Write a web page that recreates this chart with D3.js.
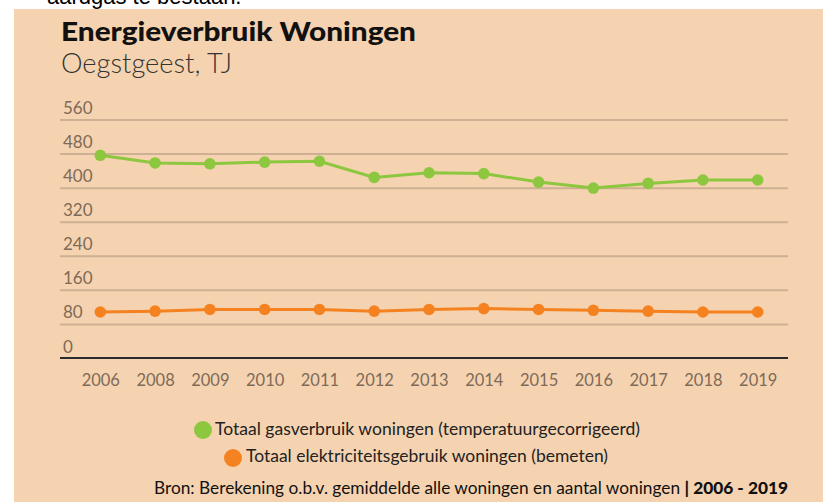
<!DOCTYPE html>
<html>
<head>
<meta charset="utf-8">
<script src="https://cdn.jsdelivr.net/npm/d3@7"></script>
<style>
  html, body { margin: 0; padding: 0; background: #ffffff; }
  svg { display: block; }
  text { font-family: Lato, "Open Sans", sans-serif; }
</style>
</head>
<body>
<svg id="chart" width="823" height="502"></svg>
<script>
const years = ["2006","2008","2009","2010","2011","2012","2013","2014","2015","2016","2017","2018","2019"];
const gasValues = [476, 458, 456, 460, 462, 424, 435, 433, 413, 399, 410, 418, 418];
const elecValues = [108, 110, 114, 114, 114, 110, 114, 116, 114, 112, 110, 108, 108];
const yTickValues = [0, 80, 160, 240, 320, 400, 480, 560];
const seriesNames = ["Totaal gasverbruik woningen (temperatuurgecorrigeerd)", "Totaal elektriciteitsgebruik woningen (bemeten)"];
const seriesColors = ["#8dc63f", "#f58220"];

const svg = d3.select("#chart");

// text above the chart panel (cropped page content)
svg.append("text").attr("x", 47).attr("y", 4)
  .style("font-family", "'Liberation Sans', Arial, sans-serif")
  .style("font-size", "22px").attr("fill", "#000")
  .text("aardgas te bestaan.");

// panel
svg.append("rect").attr("x", 14).attr("y", 9).attr("width", 809).attr("height", 493)
  .attr("fill", "#f5d3b0");

// fit helper: stretch a text to a target width
function fit(sel, w) {
  sel.attr("textLength", w).attr("lengthAdjust", "spacingAndGlyphs");
  return sel;
}

// titles
fit(svg.append("text").attr("x", 61).attr("y", 41)
  .style("font-size", "26px").style("font-weight", 900).attr("fill", "#111")
  .text("Energieverbruik Woningen"), 355);
fit(svg.append("text").attr("x", 61).attr("y", 72.5)
  .style("font-size", "27px").style("font-weight", 300).attr("fill", "#333")
  .text("Oegstgeest, TJ"), 171);

const left = 60, right = 788;
const x = d3.scalePoint().domain(years).range([100.3, 757.7]);
const y = d3.scaleLinear().domain([0, 560]).range([358, 119.5]);

// y grid + labels
const yAxis = d3.axisLeft(y).tickValues(yTickValues).tickSize(-(right - left)).tickFormat(d3.format("d"));
const gy = svg.append("g").attr("transform", `translate(${left},0)`).call(yAxis);
gy.select(".domain").remove();
gy.selectAll(".tick line").attr("stroke", "#cdb093").attr("stroke-width", 2)
  .filter(d => d === 0).remove();
gy.selectAll(".tick text").attr("x", 3).attr("dy", -6).attr("text-anchor", "start")
  .style("font-size", "17px").attr("fill", "#7e6a58").style("font-family", "Lato, sans-serif");

// x axis
const xAxis = d3.axisBottom(x).tickSize(0);
const gx = svg.append("g").attr("transform", `translate(0,${y(0)})`).call(xAxis);
gx.select(".domain").remove();
gx.selectAll(".tick text").attr("y", 28).attr("dy", 0)
  .style("font-size", "16.5px").attr("fill", "#7e6a58").style("font-family", "Lato, sans-serif");
svg.append("line").attr("x1", left).attr("x2", right).attr("y1", y(0)).attr("y2", y(0))
  .attr("stroke", "#2b2b2b").attr("stroke-width", 2);

// lines
const series = [gasValues, elecValues];
const line = d3.line().x((d, i) => x(years[i])).y(d => y(d));
series.forEach((vals, si) => {
  svg.append("path").datum(vals).attr("d", line)
    .attr("fill", "none").attr("stroke", seriesColors[si]).attr("stroke-width", 3);
  svg.append("g").selectAll("circle").data(vals).join("circle")
    .attr("cx", (d, i) => x(years[i])).attr("cy", d => y(d)).attr("r", 5.8)
    .attr("fill", seriesColors[si]);
});

// legend
const legendPos = [{cx: 203, cy: 430, tx: 215, ty: 435, w: 425}, {cx: 233, cy: 458, tx: 246, ty: 462, w: 362}];
seriesNames.forEach((name, i) => {
  const p = legendPos[i];
  svg.append("circle").attr("cx", p.cx).attr("cy", p.cy).attr("r", 9).attr("fill", seriesColors[i]);
  fit(svg.append("text").attr("x", p.tx).attr("y", p.ty)
    .style("font-size", "17.5px").attr("fill", "#222").text(name), p.w);
});

// source
const src = svg.append("text").attr("x", 154).attr("y", 494)
  .style("font-size", "17px").attr("fill", "#111");
src.append("tspan").text("Bron: Berekening o.b.v. gemiddelde alle woningen en aantal woningen ");
src.append("tspan").style("font-weight", 900).text("| 2006 - 2019");
fit(src, 634);
</script>
</body>
</html>
